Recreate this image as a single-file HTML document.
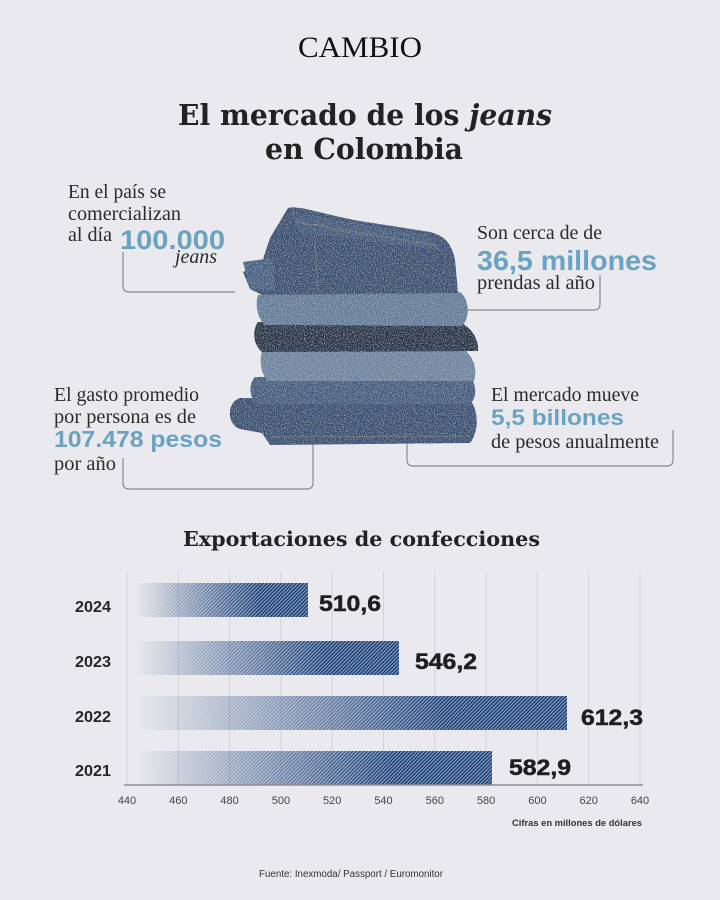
<!DOCTYPE html>
<html><head><meta charset="utf-8"><style>
html,body{margin:0;padding:0;background:#eaeaee;}
svg{display:block;}
</style></head><body>
<svg width="720" height="900" viewBox="0 0 720 900" xmlns="http://www.w3.org/2000/svg">
<defs>
  <pattern id="dn" width="2.6" height="2.6" patternUnits="userSpaceOnUse" patternTransform="rotate(45)">
    <rect width="2.6" height="2.6" fill="#7896c0"/>
    <rect width="1.25" height="2.6" fill="#1a3666"/>
  </pattern>
  <linearGradient id="fg" x1="0" y1="0" x2="1" y2="0">
    <stop offset="0" stop-color="#fff" stop-opacity="0"/>
    <stop offset="0.3" stop-color="#fff" stop-opacity="0.45"/>
    <stop offset="0.72" stop-color="#fff" stop-opacity="1"/>
    <stop offset="1" stop-color="#fff" stop-opacity="1"/>
  </linearGradient>
  <mask id="fade" maskContentUnits="objectBoundingBox">
    <rect width="1" height="1" fill="url(#fg)"/>
  </mask>
  <filter id="tex" x="0" y="0" width="100%" height="100%">
    <feTurbulence type="fractalNoise" baseFrequency="0.9" numOctaves="2" seed="4" result="n"/>
    <feColorMatrix in="n" type="matrix" values="0 0 0 0 0.8  0 0 0 0 0.84  0 0 0 0 0.92  1.3 0 0 0 -0.62" result="w"/>
    <feComposite in="w" in2="SourceGraphic" operator="in" result="wi"/>
    <feMerge><feMergeNode in="SourceGraphic"/><feMergeNode in="wi"/></feMerge>
  </filter>
</defs>
<rect width="720" height="900" fill="#eaeaee"/>

<!-- Header -->
<text x="360" y="57" text-anchor="middle" font-family="Liberation Serif, serif" font-size="30" fill="#111" textLength="124" lengthAdjust="spacingAndGlyphs">CAMBIO</text>
<text x="365" y="125" text-anchor="middle" font-family="DejaVu Serif, serif" font-weight="bold" font-size="29" fill="#222" textLength="374" lengthAdjust="spacingAndGlyphs">El mercado de los <tspan font-style="italic">jeans</tspan></text>
<text x="364" y="159" text-anchor="middle" font-family="DejaVu Serif, serif" font-weight="bold" font-size="29" fill="#222" textLength="198" lengthAdjust="spacingAndGlyphs">en Colombia</text>

<!-- Brackets -->
<g fill="none" stroke="#8a8a8e" stroke-width="1.2">
  <path d="M123 252 V286 Q123 292 129 292 H235"/>
  <path d="M600 275 V304 Q600 310 594 310 H466"/>
  <path d="M123 458 V483 Q123 489 129 489 H307 Q313 489 313 483 V436"/>
  <path d="M407 436 V460 Q407 466 413 466 H667 Q673 466 673 460 V430"/>
</g>

<!-- Jeans stack -->
<g filter="url(#tex)">
  <path d="M240,398 L470,400 C479,410 479,432 470,443 L270,445 L262,433 L240,429 C227,425 226,402 240,398 Z" fill="#344d70"/>
  <path d="M255,377 L470,376 C477,385 477,398 470,404 L258,404 C249,398 248,385 255,377 Z" fill="#435c7d"/>
  <path d="M264,347 L460,346 C473,355 478,368 474,381 L268,381 C259,372 259,355 264,347 Z" fill="#6e849e"/>
  <path d="M258,322 L455,320 C470,325 479,338 478,351 L262,352 C253,345 252,330 258,322 Z" fill="#222e43"/>
  <path d="M258,295 L460,292 C470,300 470,318 462,326 L265,325 C257,318 255,305 258,295 Z" fill="#647c98"/>
  <path d="M288,208 C300,205 320,214 360,221 L430,232 C446,236 452,245 455,260 L458,293 L262,295 L250,289 L243,272 L262,262 L270,238 Z" fill="#354d6e"/>
  <path d="M290,212 L430,236 L440,250 L300,232 Z" fill="#425b7c" opacity="0.8"/>
  <path d="M243,262 L272,258 L275,290 L250,289 Z" fill="#455e7f"/>
</g>
<g fill="none" stroke="#a89c80" stroke-width="0.8" opacity="0.55">
  <path d="M295,222 L440,246"/>
  <path d="M315,240 L318,290"/>
  <path d="M300,296 L302,322"/>
  <path d="M270,437 L470,436"/>
</g>

<!-- Text blocks -->
<g font-family="Liberation Serif, serif" font-size="20" fill="#2b2b2b">
  <text x="68" y="198" textLength="98" lengthAdjust="spacingAndGlyphs">En el país se</text>
  <text x="68" y="220" textLength="113" lengthAdjust="spacingAndGlyphs">comercializan</text>
  <text x="68" y="241" textLength="44" lengthAdjust="spacingAndGlyphs">al día</text>
  <text x="175" y="263" font-style="italic" textLength="42" lengthAdjust="spacingAndGlyphs">jeans</text>

  <text x="477" y="239" textLength="125" lengthAdjust="spacingAndGlyphs">Son cerca de de</text>
  <text x="477" y="289" textLength="118" lengthAdjust="spacingAndGlyphs">prendas al año</text>

  <text x="54" y="401" textLength="145" lengthAdjust="spacingAndGlyphs">El gasto promedio</text>
  <text x="54" y="423" textLength="142" lengthAdjust="spacingAndGlyphs">por persona es de</text>
  <text x="54" y="470" textLength="62" lengthAdjust="spacingAndGlyphs">por año</text>

  <text x="491" y="401" textLength="148" lengthAdjust="spacingAndGlyphs">El mercado mueve</text>
  <text x="491" y="448" textLength="168" lengthAdjust="spacingAndGlyphs">de pesos anualmente</text>
</g>
<g font-family="Liberation Sans, sans-serif" font-weight="bold" fill="#6aa2c2">
  <text x="120" y="249" font-size="26.5" textLength="105" lengthAdjust="spacingAndGlyphs">100.000</text>
  <text x="477" y="270" font-size="28" textLength="180" lengthAdjust="spacingAndGlyphs">36,5 millones</text>
  <text x="54" y="447" font-size="23.5" textLength="168" lengthAdjust="spacingAndGlyphs">107.478 pesos</text>
  <text x="491" y="425" font-size="22" textLength="133" lengthAdjust="spacingAndGlyphs">5,5 billones</text>
</g>

<!-- Chart title -->
<text x="361.5" y="546" text-anchor="middle" font-family="DejaVu Serif, serif" font-weight="bold" font-size="20.5" fill="#222" textLength="357" lengthAdjust="spacingAndGlyphs">Exportaciones de confecciones</text>

<!-- Gridlines -->
<g stroke="#d2d2d8" stroke-width="1">
  <line x1="127" y1="572" x2="127" y2="785"/>
  <line x1="178.3" y1="572" x2="178.3" y2="785"/>
  <line x1="229.6" y1="572" x2="229.6" y2="785"/>
  <line x1="280.9" y1="572" x2="280.9" y2="785"/>
  <line x1="332.2" y1="572" x2="332.2" y2="785"/>
  <line x1="383.5" y1="572" x2="383.5" y2="785"/>
  <line x1="434.8" y1="572" x2="434.8" y2="785"/>
  <line x1="486.1" y1="572" x2="486.1" y2="785"/>
  <line x1="537.4" y1="572" x2="537.4" y2="785"/>
  <line x1="588.7" y1="572" x2="588.7" y2="785"/>
  <line x1="640" y1="572" x2="640" y2="785"/>
</g>

<!-- Bars -->
<rect x="135" y="583" width="173" height="34" fill="url(#dn)" mask="url(#fade)"/>
<rect x="135" y="641" width="264" height="34" fill="url(#dn)" mask="url(#fade)"/>
<rect x="135" y="696" width="432" height="34" fill="url(#dn)" mask="url(#fade)"/>
<rect x="135" y="751" width="357" height="34" fill="url(#dn)" mask="url(#fade)"/>

<!-- Axis -->
<line x1="124" y1="785" x2="643" y2="785" stroke="#8e8e94" stroke-width="1.5"/>

<!-- Year labels -->
<g font-family="Liberation Sans, sans-serif" font-weight="bold" font-size="15.5" fill="#262626" text-anchor="end">
  <text x="111" y="612" textLength="36" lengthAdjust="spacingAndGlyphs">2024</text>
  <text x="111" y="667" textLength="36" lengthAdjust="spacingAndGlyphs">2023</text>
  <text x="111" y="722" textLength="36" lengthAdjust="spacingAndGlyphs">2022</text>
  <text x="111" y="776" textLength="36" lengthAdjust="spacingAndGlyphs">2021</text>
</g>

<!-- Value labels -->
<g font-family="Liberation Sans, sans-serif" font-weight="bold" font-size="22.5" fill="#1f1f1f" stroke="#1f1f1f" stroke-width="0.5">
  <text x="319" y="611" textLength="62" lengthAdjust="spacingAndGlyphs">510,6</text>
  <text x="415" y="669" textLength="62" lengthAdjust="spacingAndGlyphs">546,2</text>
  <text x="581" y="725" textLength="62" lengthAdjust="spacingAndGlyphs">612,3</text>
  <text x="509" y="775" textLength="62" lengthAdjust="spacingAndGlyphs">582,9</text>
</g>

<!-- Tick labels -->
<g font-family="Liberation Sans, sans-serif" font-size="11" fill="#444" text-anchor="middle">
  <text x="127" y="804">440</text>
  <text x="178.3" y="804">460</text>
  <text x="229.6" y="804">480</text>
  <text x="280.9" y="804">500</text>
  <text x="332.2" y="804">520</text>
  <text x="383.5" y="804">540</text>
  <text x="434.8" y="804">560</text>
  <text x="486.1" y="804">580</text>
  <text x="537.4" y="804">600</text>
  <text x="588.7" y="804">620</text>
  <text x="640" y="804">640</text>
</g>

<text x="512" y="826" font-family="Liberation Sans, sans-serif" font-weight="bold" font-size="9.5" fill="#333" textLength="130" lengthAdjust="spacingAndGlyphs">Cifras en millones de dólares</text>

<text x="259" y="877" font-family="Liberation Sans, sans-serif" font-size="10" fill="#333" textLength="184" lengthAdjust="spacingAndGlyphs">Fuente: Inexmoda/ Passport / Euromonitor</text>
</svg>
</body></html>
